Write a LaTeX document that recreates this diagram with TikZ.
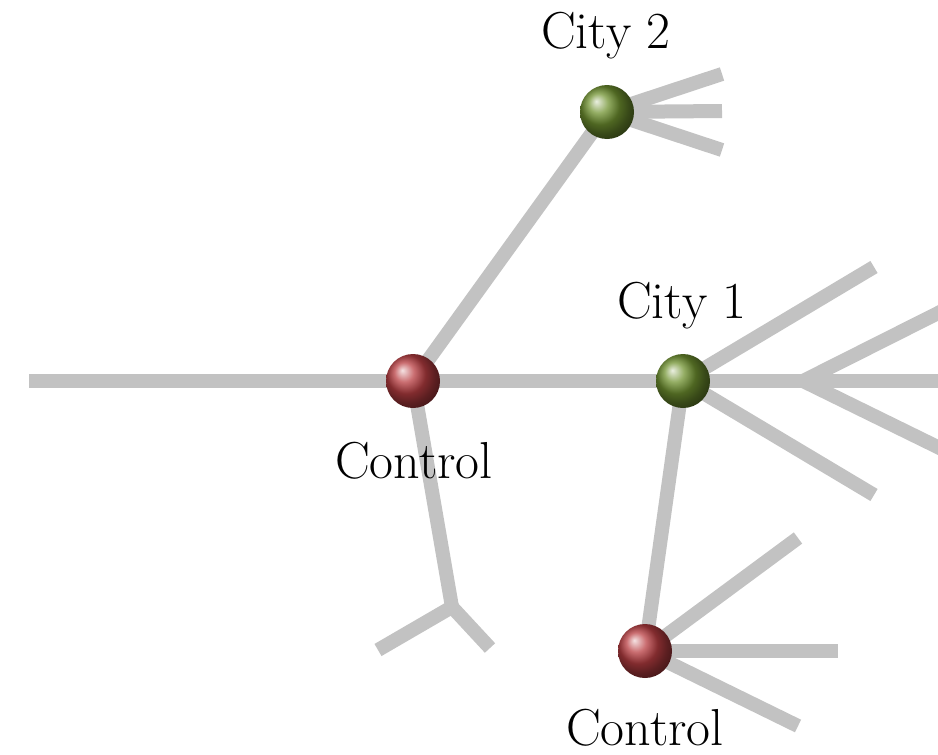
\documentclass[tikz,border=0pt]{standalone}
\usetikzlibrary{calc}
\definecolor{road}{RGB}{194,194,194}
\definecolor{ctlred}{RGB}{185,62,66}
\definecolor{citygreen}{RGB}{112,146,48}
\tikzset{
  road/.style={draw=road, line width=14pt, line cap=butt, line join=miter},
  ctlball/.style={circle, minimum size=54pt, inner sep=0pt, ball color=ctlred},
  cityball/.style={circle, minimum size=54pt, inner sep=0pt, ball color=citygreen},
  lbl/.style={anchor=base, inner sep=0pt, font=\fontsize{52}{62}\selectfont}
}
\begin{document}
\begin{tikzpicture}[x=1pt, y=-1pt]
\useasboundingbox (0,0) rectangle (938,755);
\clip (0,0) rectangle (938,755);

% junction points
\coordinate (pc1) at (413,381);
\coordinate (pk1) at (683,381);
\coordinate (pk2) at (607,112);
\coordinate (pc2) at (645,651);
\coordinate (west) at (29,381);
\coordinate (fork) at (452,607);
\coordinate (forkl) at (378,650);
\coordinate (forkr) at (490,648);
\coordinate (k2a) at (722,74);
\coordinate (k2b) at (722,111);
\coordinate (k2c) at (722,150);
\coordinate (k1up) at (874,267);
\coordinate (k1dn) at (874,495);
\coordinate (k1split) at (803,381);
\coordinate (k1e) at (960,381);
\coordinate (k1ne) at (960,302);
\coordinate (k1se) at (960,458);
\coordinate (c2a) at (798,538);
\coordinate (c2b) at (838,651);
\coordinate (c2c) at (798,726);

% roads
\draw[road] (west) -- (pc1);
\draw[road] (pc1) -- (pk1);
\draw[road] (pc1) -- (pk2);
\draw[road] (pc1) -- (fork);
\draw[road] (forkl) -- (fork) -- (forkr);
\draw[road] (pk2) -- (k2a);
\draw[road] (pk2) -- (k2b);
\draw[road] (pk2) -- (k2c);
\draw[road] (pk1) -- (k1up);
\draw[road] (pk1) -- (k1dn);
\draw[road] (pk1) -- (k1e);
\draw[road] (k1ne) -- (k1split) -- (k1se);
\draw[road] (pk1) -- (pc2);
\draw[road] (pc2) -- (c2a);
\draw[road] (pc2) -- (c2b);
\draw[road] (pc2) -- (c2c);

% settlements
\node[ctlball] (control1) at (pc1) {};
\node[ctlball] (control2) at (pc2) {};
\node[cityball] (city1) at (pk1) {};
\node[cityball] (city2) at (pk2) {};

% labels
\node[lbl] (lcity2) at (606,48) {City 2};
\node[lbl] (lcity1) at (682,318) {City 1};
\node[lbl] (lcontrol1) at (414,478) {Control};
\node[lbl] (lcontrol2) at (645,745) {Control};
\end{tikzpicture}
\end{document}
